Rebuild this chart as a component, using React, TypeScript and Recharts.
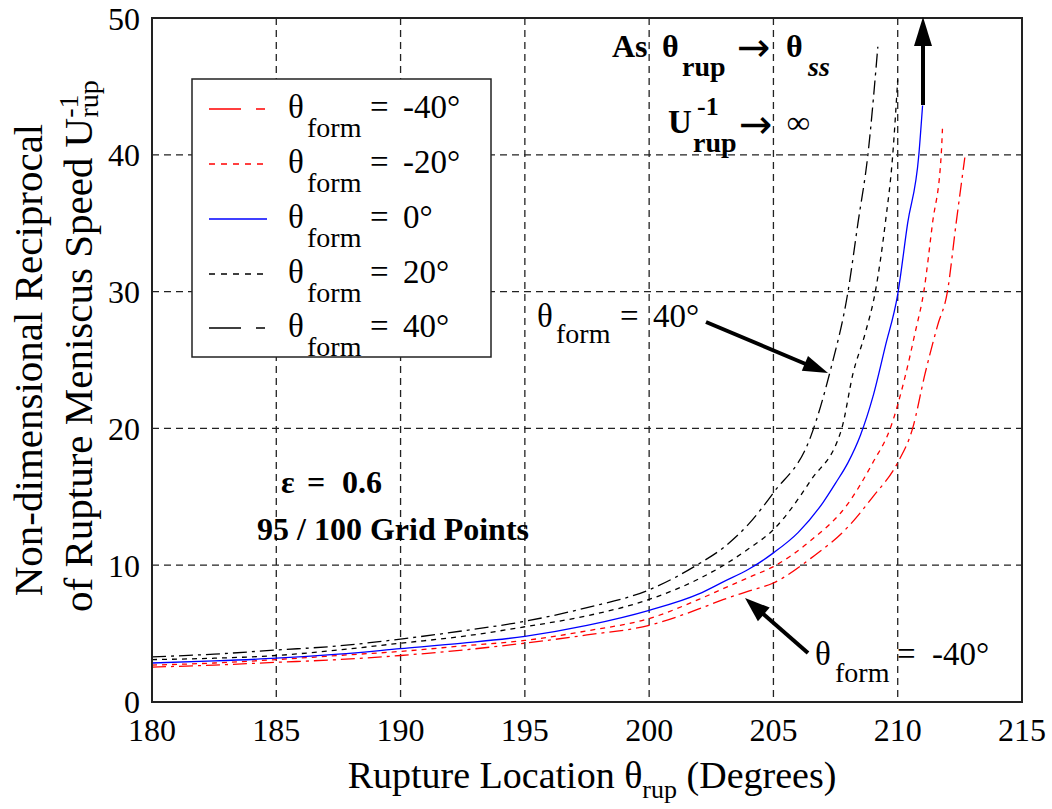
import { LineChart, Line, XAxis, YAxis, CartesianGrid, ReferenceArea } from 'recharts';

const FONT = "'Liberation Serif', 'DejaVu Serif', serif";
const ARROW_FONT = "'DejaVu Sans', sans-serif";

const xTicks = [180, 185, 190, 195, 200, 205, 210, 215];
const yTicks = [0, 10, 20, 30, 40, 50];

// theta_form = -40
const thetaM40 = [180, 182.5, 185, 187.5, 190, 192.5, 195, 197.5, 200, 202, 203, 204, 205, 206.5, 208, 209, 210, 210.6, 211.1, 211.6, 212, 212.35, 212.7];
const uM40 = [2.55, 2.7, 2.9, 3.1, 3.4, 3.8, 4.3, 4.9, 5.6, 6.8, 7.5, 8.1, 8.7, 10.5, 12.8, 15, 17.5, 20, 24, 27.5, 30, 35, 39.8];

// theta_form = -20
const thetaM20 = [180, 182.5, 185, 187.5, 190, 192.5, 195, 197.5, 200, 202, 203, 204, 205, 206.5, 208, 209, 209.7, 210.3, 210.7, 211.05, 211.4, 211.75, 211.8];
const uM20 = [2.7, 2.85, 3.1, 3.4, 3.7, 4.1, 4.5, 5.2, 6.1, 7.5, 8.3, 9.1, 9.9, 11.8, 14.5, 17.5, 20, 23.8, 27, 30, 35, 40, 41.9];

// theta_form = 0
const theta0 = [180, 182.5, 185, 187.5, 190, 192.5, 195, 197.5, 200, 202, 203, 204, 205, 206, 207, 207.5, 208, 208.5, 209, 209.5, 210, 210.4, 210.85, 211];
const u0 = [2.85, 3.0, 3.2, 3.5, 3.9, 4.3, 4.8, 5.6, 6.7, 7.9, 8.8, 9.7, 10.9, 12.4, 14.6, 16.0, 17.5, 19.5, 22.3, 26, 29.8, 35, 40, 43.6];

// theta_form = 20
const theta20 = [180, 182.5, 185, 187.5, 190, 192.5, 195, 197.5, 200, 202, 203, 204, 205, 206.5, 207.75, 208.2, 208.7, 209.1, 209.5, 209.8, 210];
const u20 = [3.1, 3.2, 3.4, 3.8, 4.3, 4.8, 5.5, 6.3, 7.5, 9.0, 10.0, 11.2, 12.6, 16.2, 20, 24, 27, 30, 35, 40, 45.5];

// theta_form = 40
const theta40 = [180, 182.5, 185, 187.5, 190, 192.5, 195, 197.5, 200, 202, 203, 204, 205, 206.5, 207.3, 208, 208.4, 208.8, 209.2];
const u40 = [3.3, 3.5, 3.8, 4.1, 4.6, 5.2, 5.9, 6.9, 8.2, 10.1, 11.3, 13.0, 15.3, 19.4, 24.3, 30, 35, 40, 47.9];

const toPoints = (xs: number[], ys: number[]) => xs.map((x, i) => ({ x, y: ys[i] }));

const series = [
  { key: 'm40', label: '-40°', color: '#ff0000', dash: '14 5 3 5', legendDash: '32 15 9 20', data: toPoints(thetaM40, uM40) },
  { key: 'm20', label: '-20°', color: '#ff0000', dash: '5 5', legendDash: '6 6', data: toPoints(thetaM20, uM20) },
  { key: 'z0', label: '0°', color: '#0000ff', dash: undefined, legendDash: undefined, data: toPoints(theta0, u0) },
  { key: 'p20', label: '20°', color: '#000000', dash: '5 5', legendDash: '6 6', data: toPoints(theta20, u20) },
  { key: 'p40', label: '40°', color: '#000000', dash: '14 5 3 5', legendDash: '32 15 9 20', data: toPoints(theta40, u40) },
];

const legendRows = [109, 164, 219, 274, 328];

function Overlay() {
  return (
    <svg
      width={1052}
      height={809}
      style={{ position: 'absolute', left: 0, top: 0, pointerEvents: 'none', fontFamily: FONT }}
    >
      {/* legend */}
      <rect x={192} y={79} width={299} height={278} fill="#fff" stroke="#222" strokeWidth={1.5} />
      {series.map((s, i) => {
        const y = legendRows[i];
        return (
          <g key={s.key}>
            <line x1={209} x2={267} y1={y} y2={y} stroke={s.color} strokeWidth={1.5} strokeDasharray={s.legendDash} />
            <text x={288} y={y + 9} fontSize={33}>θ</text>
            <text x={307} y={y + 28} fontSize={28}>form</text>
            <text x={370} y={y + 9} fontSize={33}>=</text>
            <text x={403} y={y + 9} fontSize={33}>{s.label}</text>
          </g>
        );
      })}

      {/* top annotation */}
      <g fontWeight="bold">
        <text x={612} y={57} fontSize={32}>As</text>
        <text x={662} y={57} fontSize={32}>θ</text>
        <text x={682} y={76} fontSize={28}>rup</text>
        <text x={737} y={61} fontSize={40} fontWeight="normal" style={{ fontFamily: ARROW_FONT }}>→</text>
        <text x={786} y={57} fontSize={32}>θ</text>
        <text x={808} y={76} fontSize={28} fontStyle="italic">ss</text>

        <text x={668} y={133} fontSize={33}>U</text>
        <text x={697} y={115} fontSize={26}>-1</text>
        <text x={693} y={152} fontSize={28}>rup</text>
        <text x={739} y={138} fontSize={40} fontWeight="normal" style={{ fontFamily: ARROW_FONT }}>→</text>
        <text x={787} y={133} fontSize={32}>∞</text>
      </g>
      <line x1={923} y1={105} x2={923} y2={40} stroke="#000" strokeWidth={4} />
      <polygon points="923,17 914,46 932,46" fill="#000" />

      {/* theta_form = 40 label */}
      <text x={537} y={327} fontSize={33}>θ</text>
      <text x={556} y={343} fontSize={28}>form</text>
      <text x={620} y={327} fontSize={33}>=</text>
      <text x={653} y={327} fontSize={33}>40°</text>
      <line x1={706} y1={322} x2={808} y2={365} stroke="#000" strokeWidth={4} />
      <polygon points="828,373 801.8,370.7 808,356" fill="#000" />

      {/* theta_form = -40 label */}
      <text x={815} y={665} fontSize={33}>θ</text>
      <text x={835} y={682} fontSize={28}>form</text>
      <text x={897} y={665} fontSize={33}>=</text>
      <text x={932} y={665} fontSize={33}>-40°</text>
      <line x1={808} y1={653} x2={761} y2={612} stroke="#000" strokeWidth={4} />
      <polygon points="745,598 769.7,607.6 757.9,621.2" fill="#000" />

      {/* parameters */}
      <g fontWeight="bold" fontSize={32}>
        <text x={281} y={493}>ε</text>
        <text x={307} y={493}>=</text>
        <text x={342} y={493}>0.6</text>
        <text x={257} y={540}>95 / 100 Grid Points</text>
      </g>

      {/* x axis label */}
      <text x={592} y={788} fontSize={38} textAnchor="middle">
        Rupture Location θ
        <tspan dy={10} fontSize={26}>rup</tspan>
        <tspan dy={-10}> (Degrees)</tspan>
      </text>

      {/* y axis label */}
      <text transform="translate(42, 360) rotate(-90)" textAnchor="middle" fontSize={41}>
        Non-dimensional Reciprocal
      </text>
      <text transform="translate(92, 612) rotate(-90)" fontSize={41}>
        of Rupture Meniscus Speed U
        <tspan dy={-14} fontSize={28}>-1</tspan>
        <tspan dx={-23} dy={20} fontSize={28}>rup</tspan>
      </text>
    </svg>
  );
}

export default function App() {
  return (
    <div style={{ position: 'absolute', left: 0, top: 0, width: 1052, height: 809, background: '#fff' }}>
      <LineChart width={1052} height={809} margin={{ top: 18, right: 30, bottom: 57, left: 92 }}>
        <CartesianGrid stroke="#222" strokeWidth={1.3} strokeDasharray="7 5" />
        <XAxis
          type="number"
          dataKey="x"
          domain={[180, 215]}
          ticks={xTicks}
          allowDataOverflow
          height={50}
          tickLine={false}
          tickMargin={10}
          axisLine={{ stroke: '#222', strokeWidth: 2 }}
          tick={{ fontSize: 32, fill: '#000', fontFamily: FONT }}
        />
        <YAxis
          type="number"
          dataKey="y"
          domain={[0, 50]}
          ticks={yTicks}
          allowDataOverflow
          width={60}
          tickLine={false}
          tickMargin={6}
          axisLine={{ stroke: '#222', strokeWidth: 2 }}
          tick={{ fontSize: 32, fill: '#000', fontFamily: FONT }}
        />
        <ReferenceArea x1={180} x2={215} y1={0} y2={50} fill="none" stroke="#222" strokeWidth={2} ifOverflow="visible" />
        {series.map((s) => (
          <Line
            key={s.key}
            data={s.data}
            dataKey="y"
            type="monotone"
            stroke={s.color}
            strokeWidth={1.3}
            strokeDasharray={s.dash}
            dot={false}
            activeDot={false}
            isAnimationActive={false}
          />
        ))}
      </LineChart>
      <Overlay />
    </div>
  );
}
